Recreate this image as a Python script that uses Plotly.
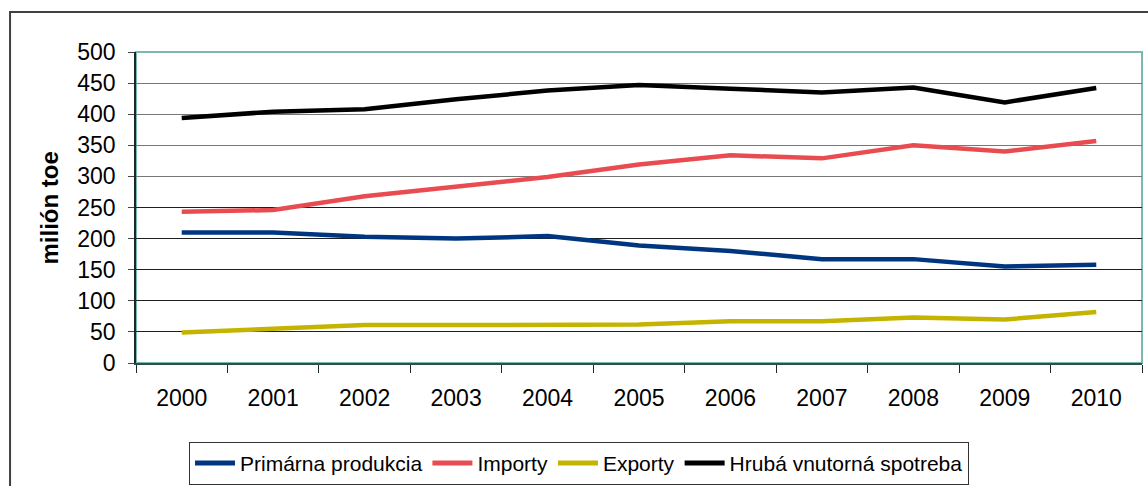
import plotly.graph_objects as go

years = ["2000", "2001", "2002", "2003", "2004", "2005", "2006", "2007", "2008", "2009", "2010"]
primarna = [210, 210, 203, 200, 204, 189, 180, 167, 167, 155, 158]
importy = [243, 246, 268, 283, 299, 319, 334, 329, 350, 340, 357]
exporty = [49, 55, 61, 61, 61, 62, 67, 67, 73, 70, 82]
hruba = [394, 404, 408, 424, 438, 447, 441, 435, 443, 419, 442]

series_names = ["Primárna produkcia", "Importy", "Exporty", "Hrubá vnutorná spotreba"]
series_colors = ["#003580", "#e84c50", "#c4b400", "#000000"]

y_ticks = [0, 50, 100, 150, 200, 250, 300, 350, 400, 450, 500]
grey_grid = [300, 350, 400, 450]

FONT = "Liberation Sans, Arial, sans-serif"

fig = go.Figure()
for name, vals, col in zip(series_names, [primarna, importy, exporty, hruba], series_colors):
    fig.add_trace(go.Scatter(x=years, y=vals, name=name, mode="lines",
                             line=dict(color=col, width=4.5)))

# invisible trace carrying a second y axis for the lighter grid lines
fig.add_trace(go.Scatter(x=years, y=hruba, yaxis="y2", mode="lines",
                         line=dict(width=0), showlegend=False, hoverinfo="skip", opacity=0))

fig.update_layout(
    width=1148, height=486,
    margin=dict(l=136, r=6, t=52, b=123, autoexpand=False),
    paper_bgcolor="white", plot_bgcolor="white",
    font=dict(family=FONT, size=23, color="#000000"),
    showlegend=True,
    legend=dict(orientation="h", x=0.0527, xanchor="left", y=-0.392, yanchor="bottom",
                bordercolor="#333333", borderwidth=1, bgcolor="white",
                font=dict(family=FONT, size=21), itemwidth=40, tracegroupgap=0,
                itemsizing="constant"),
    xaxis=dict(type="category", tickson="boundaries", ticks="outside", ticklen=8,
               tickcolor="#1a2a2a", showline=True, linecolor="#2f4f4c", linewidth=1.5,
               showgrid=False, ticklabelstandoff=14, tickfont=dict(size=23),
               range=[-0.5, 10.5]),
    yaxis=dict(range=[0, 500], tickvals=y_ticks, ticks="outside", ticklen=6,
               tickcolor="#444444", showline=True, linecolor="#1a2a2a", linewidth=1.5,
               showgrid=True, gridcolor="#1e1e1e", gridwidth=1, zeroline=False,
               ticklabelstandoff=8, tickfont=dict(size=23)),
    yaxis2=dict(range=[0, 500], tickvals=grey_grid, overlaying="y", side="left",
                showticklabels=False, ticks="", showgrid=True, gridcolor="#777777",
                gridwidth=1, zeroline=False, showline=False),
    annotations=[dict(text="<b>milión toe</b>", xref="paper", yref="paper",
                      x=-0.0855, y=0.5, xanchor="center", yanchor="middle",
                      textangle=-90, showarrow=False,
                      font=dict(family=FONT, size=24, color="#000000"))],
    shapes=[
        dict(type="rect", xref="paper", yref="paper", x0=0, x1=1, y0=0, y1=1,
             line=dict(color="#7ab8b0", width=2), layer="below"),
        dict(type="rect", xref="paper", yref="paper", x0=-0.1252, x1=1.02,
             y0=-0.42, y1=1.1286, line=dict(color="#404040", width=2), layer="below"),
    ],
)

fig.write_html("out.html")
